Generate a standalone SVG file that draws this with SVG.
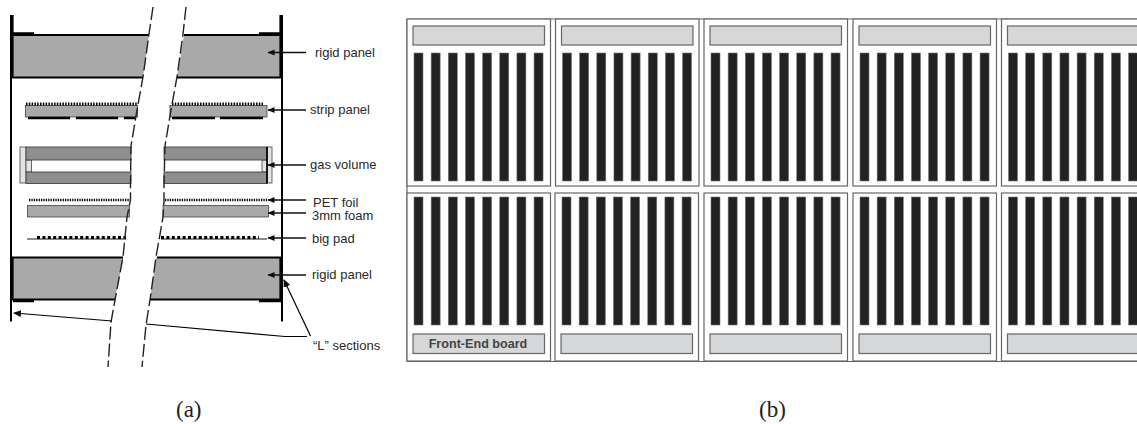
<svg xmlns="http://www.w3.org/2000/svg" xmlns:xlink="http://www.w3.org/1999/xlink" width="1137" height="424" viewBox="0 0 1137 424">
<style>
.lbl{font-family:"Liberation Sans",Arial,sans-serif;font-size:13px;fill:#2a2a2a}
.cap{font-family:"Liberation Serif","Times New Roman",serif;font-size:23px;fill:#222}
.pan{fill:#a9a9a9}
.dk{fill:#8f8f8f;stroke:#333;stroke-width:.8}
.lt{fill:#e4e4e4;stroke:#444;stroke-width:.8}
.k{stroke:#000;fill:none}
.brk{fill:none;stroke:#222;stroke-width:1.4;stroke-dasharray:13 4}
.arr{stroke:#111;stroke-width:1.4;fill:none;marker-end:url(#ah)}
.cell{fill:#fff;stroke:#666;stroke-width:1.2}
.fe{fill:#d6d7d9;stroke:#666;stroke-width:1.2}
.bar{fill:#222220;stroke:#777;stroke-width:.6}
.fet{font-family:"Liberation Sans",Arial,sans-serif;font-size:12.6px;font-weight:bold;fill:#444;text-anchor:middle}
</style>
<defs>
<filter id="soft" x="-2%" y="-2%" width="104%" height="104%"><feGaussianBlur stdDeviation="0.45"/></filter>
<marker id="ah" markerUnits="userSpaceOnUse" markerWidth="8" markerHeight="8" refX="6.500" refY="3.500" orient="auto"><path d="M0 0.500L7 3.500L0 6.500z" fill="#111"/></marker>
<marker id="ah2" markerUnits="userSpaceOnUse" markerWidth="9" markerHeight="9" refX="7" refY="4" orient="auto"><path d="M0 0.500L8 4L0 7.500z" fill="#111"/></marker>
<g id="strips">
<rect class="bar" x="0" y="0" width="9" height="128"/><rect class="bar" x="17.15" y="0" width="9" height="128"/><rect class="bar" x="34.3" y="0" width="9" height="128"/><rect class="bar" x="51.45" y="0" width="9" height="128"/><rect class="bar" x="68.6" y="0" width="9" height="128"/><rect class="bar" x="85.75" y="0" width="9" height="128"/><rect class="bar" x="102.9" y="0" width="9" height="128"/><rect class="bar" x="120.05" y="0" width="9" height="128"/>
</g>
<g id="cellTop"><rect class="cell" x="0" y="0" width="143.5" height="167"/><rect class="fe" x="6" y="7" width="131.500" height="19"/><use xlink:href="#strips" x="7" y="34"/></g>
<g id="cellBot"><rect class="cell" x="0" y="0" width="143.500" height="168"/><rect class="fe" x="6" y="141" width="131.500" height="19.500"/><use xlink:href="#strips" x="7" y="4"/></g>
</defs>
<rect width="1137" height="424" fill="#fff"/>

<g filter="url(#soft)">
<g id="rigid-panel-top">
<path class="pan" d="M12 35H149L143 77H12z"/>
<path class="pan" d="M184 35H281V77H177z"/>
<path class="k" stroke-width="1.800" d="M12 35H149M12 77.500H143M184 35H281M177 77.500H281"/>
</g>
<g id="strip-panel">
<rect class="pan" x="25.500" y="105.500" width="112" height="11.500" stroke="#444" stroke-width=".8"/>
<rect class="pan" x="170" y="105.500" width="97" height="11.500" stroke="#444" stroke-width=".8"/>
<path class="k" stroke-width="3" stroke-dasharray="1.500 1.300" d="M26 104H137M172 104H263"/>
<path class="k" stroke-width="2.400" d="M28 118H70M76 118H118M124 118H135.500M172 118H215M220 118H263"/>
</g>
<g id="gas-volume">
<rect class="lt" x="20" y="147" width="6" height="36"/><rect class="lt" x="26" y="160" width="5.500" height="12"/>
<rect class="dk" x="26" y="147" width="105" height="13"/><rect class="dk" x="26" y="172" width="105" height="11.500"/>
<rect class="lt" x="267" y="147" width="5" height="36"/><rect class="lt" x="262" y="160" width="5" height="12"/>
<rect class="dk" x="164" y="147" width="103" height="13"/><rect class="dk" x="164" y="172" width="103" height="11.500"/>
<path class="k" stroke-width="1.600" d="M267 147V183.500"/>
</g>
<g id="pet-foil"><path class="k" stroke-width="2.400" stroke-dasharray="1.300 1.100" d="M29 200H130M165 200H267"/></g>
<g id="foam">
<rect class="pan" x="27.500" y="205.500" width="102" height="11.500" stroke="#444" stroke-width=".8"/>
<rect class="pan" x="163" y="205.500" width="105.500" height="11.500" stroke="#444" stroke-width=".8"/>
</g>
<g id="big-pad">
<path class="k" stroke-width=".9" d="M27 239H126M161 239H267"/>
<path class="k" stroke-width="3.200" stroke-dasharray="3 2.400" d="M37 237.500H126M161 237.500H259"/>
</g>
<g id="rigid-panel-bottom">
<path class="pan" d="M12 258H123L115 299.500H12z"/>
<path class="pan" d="M156 258H281V299.500H150z"/>
<path class="k" stroke-width="1.800" d="M12 257.500H123M12 299.500H115M157 257.500H281M150 299.500H281"/>
</g>
<g id="l-sections">
<path class="k" stroke-width="2" d="M11 15V321.500M282 15V321.500"/>
<path class="k" stroke-width="3.600" d="M11.800 15V78M281.200 15V78M281.200 257V300M11.800 257V300"/>
<path class="k" stroke-width="2.400" d="M13 33.500H34M259 33.500H281M13 301H34M259 301H281"/>
</g>
<g id="break">
<path class="brk" d="M153 7L149 34L143 77L137 110L131 146L130.500 183L130.500 200L127 217L123 257L115 300L111 322L108 367"/>
<path class="brk" d="M186 7L183 34L177 77L171 110L165 146L164 183L164 200L163 217L159 240L156 257L150 300L146 325L142 367"/>
</g>
<g id="connectors">
<path class="arr" d="M306 52.500H268"/>
<path class="arr" d="M306 110H268"/>
<path class="arr" stroke-width="1.800" d="M306 165H268"/>
<path class="arr" d="M306 200H268"/>
<path class="arr" d="M306 213H268"/>
<path class="arr" d="M306 238H268"/>
<path class="arr" d="M306 275H268"/>
<path class="k" stroke-width="1.200" d="M112 321L14 313" marker-end="url(#ah2)"/>
<path class="k" stroke-width="1.200" d="M146 324L285 336.500H307"/>
<path class="k" stroke-width="1.200" d="M310.500 336L284 280" marker-end="url(#ah2)"/>
</g>
</g>

<g id="labels">
<text class="lbl" x="315" y="57">rigid panel</text>
<text class="lbl" x="310" y="114">strip panel</text>
<text class="lbl" x="310" y="169">gas volume</text>
<text class="lbl" x="313" y="207">PET foil</text>
<text class="lbl" x="312" y="220">3mm foam</text>
<text class="lbl" x="312" y="243">big pad</text>
<text class="lbl" x="312" y="279">rigid panel</text>
<text class="lbl" x="313" y="350">“L” sections</text>
<text class="cap" x="176" y="417">(a)</text>
<text class="cap" x="759" y="417">(b)</text>
</g>

<g id="frame"><path fill="none" stroke="#666" stroke-width="1.200" d="M407 19H1137M407 361.500H1137M407 19V361.500"/></g>
<g id="module-1-1"><use xlink:href="#cellTop" x="407" y="19"/></g>
<g id="module-1-2"><use xlink:href="#cellTop" x="555.500" y="19"/></g>
<g id="module-1-3"><use xlink:href="#cellTop" x="704" y="19"/></g>
<g id="module-1-4"><use xlink:href="#cellTop" x="853" y="19"/></g>
<g id="module-1-5"><use xlink:href="#cellTop" x="1001.500" y="19"/></g>
<g id="module-2-1"><use xlink:href="#cellBot" x="407" y="193"/><text class="fet" x="478" y="348">Front-End board</text></g>
<g id="module-2-2"><use xlink:href="#cellBot" x="555" y="193"/></g>
<g id="module-2-3"><use xlink:href="#cellBot" x="704" y="193"/></g>
<g id="module-2-4"><use xlink:href="#cellBot" x="853" y="193"/></g>
<g id="module-2-5"><use xlink:href="#cellBot" x="1001.500" y="193"/></g>
</svg>
